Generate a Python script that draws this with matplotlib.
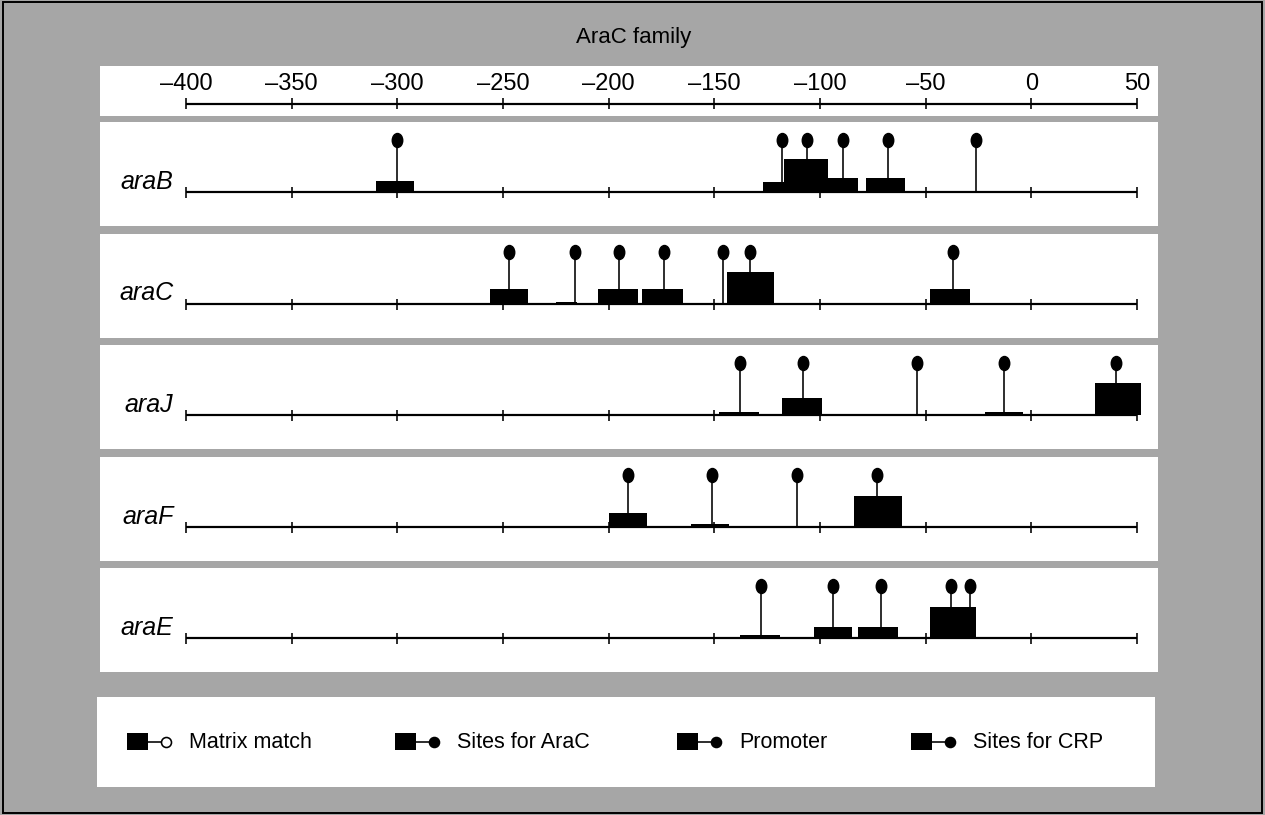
import matplotlib
matplotlib.use("Agg")
import matplotlib.pyplot as plt
from matplotlib.path import Path
from matplotlib.transforms import Affine2D
from matplotlib.patches import Rectangle

plt.rcParams['font.family'] = ['Liberation Sans', 'DejaVu Sans']

# ---------------------------------------------------------------- data
title = "AraC family"
scale_ticks = [-400, -350, -300, -250, -200, -150, -100, -50, 0, 50]
scale_labels = ["–400", "–350", "–300", "–250", "–200", "–150", "–100", "–50", "0", "50"]

genes = ["araB", "araC", "araJ", "araF", "araE"]

# predicted sites: (start, end, score) relative to the transcription start
araB_sites = [(-310, -292, 11), (-127, -117, 10), (-117, -96, 33), (-96, -82, 14), (-78, -60, 14)]
araB_pins = [-300, -118, -106, -89, -68, -26]

araC_sites = [(-256, -238, 15), (-225, -215, 2), (-205, -186, 15), (-184, -165, 15),
              (-144, -122, 32), (-48, -29, 15)]
araC_pins = [-247, -216, -195, -174, -146, -133, -37]

araJ_sites = [(-148, -129, 3), (-118, -99, 17), (-22, -4, 3), (30, 52, 32)]
araJ_pins = [-138, -108, -54, -13, 40]

araF_sites = [(-200, -182, 14), (-161, -143, 3), (-84, -61, 31)]
araF_pins = [-191, -151, -111, -73]

araE_sites = [(-138, -119, 3), (-103, -85, 11), (-82, -63, 11), (-48, -26, 31)]
araE_pins = [-128, -94, -71, -38, -29]

gene_sites = [araB_sites, araC_sites, araJ_sites, araF_sites, araE_sites]
gene_pins = [araB_pins, araC_pins, araJ_pins, araF_pins, araE_pins]

legend_labels = ["Matrix match", "Sites for AraC", "Promoter", "Sites for CRP"]

# ---------------------------------------------------------------- layout
W, H, DPI = 1265, 815, 100
BG = "#a6a6a6"
INK = "black"

fig = plt.figure(figsize=(W / DPI, H / DPI), dpi=DPI, facecolor=BG)
fig.patches.append(Rectangle((0.002, 0.003), 0.996, 0.994, transform=fig.transFigure,
                             fill=False, lw=1.4, ec=INK))


def px_axes(x0, y0, x1, y1):
    """Axes placed by pixel box (top-left origin)."""
    ax = fig.add_axes([x0 / W, 1 - y1 / H, (x1 - x0) / W, (y1 - y0) / H])
    ax.set_facecolor("white")
    for s in ax.spines.values():
        s.set_visible(False)
    ax.set_xticks([])
    ax.set_yticks([])
    return ax


BOX_L, BOX_R = 100, 1158
X_LO_PX, X_HI_PX = 186, 1137
ppu = (X_HI_PX - X_LO_PX) / (scale_ticks[-1] - scale_ticks[0])
XLIM = (scale_ticks[0] - (X_LO_PX - BOX_L) / ppu, scale_ticks[-1] + (BOX_R - X_HI_PX) / ppu)

px = 72 / DPI  # points per pixel

fig.text(634 / W, 1 - 38 / H, title, ha="center", va="center", fontsize=16, color=INK)

# ruler
ax = px_axes(BOX_L, 66, BOX_R, 116)
ax.set_xlim(*XLIM)
ax.set_ylim(-12, 38)
ax.hlines(0, scale_ticks[0], scale_ticks[-1], color=INK, lw=2.2 * px)
ax.vlines(scale_ticks, -5, 6, color=INK, lw=1.6 * px)
for t, lab in zip(scale_ticks, scale_labels):
    ax.text(t, 20, lab, ha="center", va="center", fontsize=17, color=INK)

# pin head: slightly tall ellipse
head = Path.unit_circle().transformed(Affine2D().scale(0.75, 1.0))

HEAD_Y = 52
first_base = 192
step = 111.5
for i, (name, sites, pins) in enumerate(zip(genes, gene_sites, gene_pins)):
    base = first_base + i * step
    ax = px_axes(BOX_L, base - 70, BOX_R, base + 34)
    ax.set_xlim(*XLIM)
    ax.set_ylim(-34, 70)
    ax.hlines(0, scale_ticks[0], scale_ticks[-1], color=INK, lw=2.2 * px, zorder=2)
    ax.vlines(scale_ticks, -6, 5, color=INK, lw=1.6 * px, zorder=2)
    starts = [s for s, e, h in sites]
    widths = [e - s for s, e, h in sites]
    heights = [h for s, e, h in sites]
    ax.bar(starts, heights, width=widths, align="edge", color=INK, lw=0, zorder=3)
    for p in pins:
        top = max([h for s, e, h in sites if s <= p <= e] + [0])
        ax.vlines(p, top, HEAD_Y, color=INK, lw=1.6 * px, zorder=3)
    ax.plot(pins, [HEAD_Y] * len(pins), ls="none", marker=head, ms=14 * px,
            mfc=INK, mec=INK, zorder=4)
    ax.text(scale_ticks[0] - 6, 10, name, ha="right", va="center", fontsize=18,
            style="italic", color=INK)

# key
ax = px_axes(97, 697, 1155, 787)
ax.set_xlim(0, 1058)
ax.set_ylim(0, 90)
item_x = [30, 298, 580, 814]
for j, (x, lab) in enumerate(zip(item_x, legend_labels)):
    ax.bar(x, 17, width=21, bottom=37, align="edge", color=INK, lw=0)
    ax.plot([x + 21, x + 36], [45.5, 45.5], color=INK, lw=1.6 * px)
    ax.plot(x + 39, 45.5, marker="o", ms=10 * px,
            mfc="white" if j == 0 else INK, mec=INK, mew=1.6 * px)
    ax.text(x + 62, 45, lab, ha="left", va="center", fontsize=15.5, color=INK)

fig.savefig("out.png", dpi=DPI, facecolor=BG)
